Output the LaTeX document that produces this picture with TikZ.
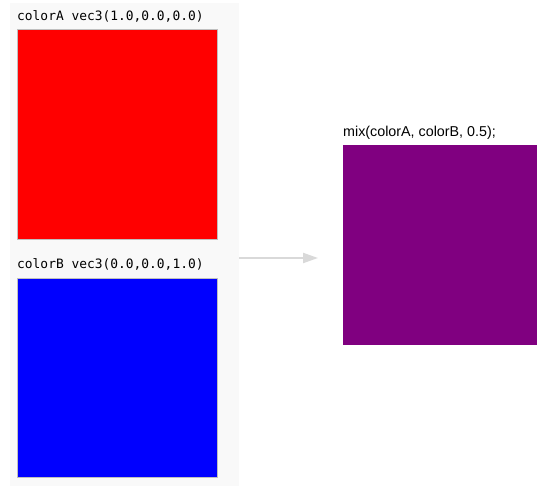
\documentclass[tikz,border=0pt]{standalone}
\usepackage{fontspec}
\setmainfont{Liberation Sans}
\setmonofont{DejaVu Sans Mono}
\usetikzlibrary{arrows.meta}
\definecolor{panelgray}{HTML}{F9F9F9}
\definecolor{arrowgray}{HTML}{D9D9D9}
\definecolor{mixpurple}{HTML}{800080}

\begin{document}
\begin{tikzpicture}[x=1pt,y=1pt,
  swatch/.style={draw=black!25, line width=0.6pt, inner sep=0pt, anchor=north west},
  codelabel/.style={font=\ttfamily\fontsize{12.9}{14}\selectfont, inner sep=0pt, anchor=base west},
  mixlabel/.style={font=\fontsize{14.3}{16}\selectfont, inner sep=0pt, anchor=base west},
  arrow/.style={draw=arrowgray, line width=2pt, -{Triangle[length=15pt,width=10pt]}}
]
  \useasboundingbox[fill=white] (0,0) rectangle (560,496);

  % left panel with the two input colours
  \node[fill=panelgray, inner sep=0pt, minimum width=229pt, minimum height=483pt,
    anchor=south west] (panel) at (10,10) {};
  \node[swatch, fill=red, minimum width=200pt, minimum height=210pt] (colorA) at (17,467) {};
  \node[codelabel] (colorAlabel) at ([yshift=8pt]colorA.north west) {colorA vec3(1.0,0.0,0.0)};
  \node[swatch, fill=blue, minimum width=200pt, minimum height=199pt] (colorB) at (17,218) {};
  \node[codelabel] (colorBlabel) at ([yshift=9pt]colorB.north west) {colorB vec3(0.0,0.0,1.0)};

  % result
  \node[fill=mixpurple, inner sep=0pt, minimum width=194pt, minimum height=200pt,
    anchor=north west] (mixed) at (343,351) {};
  \node[mixlabel] (mixedlabel) at ([yshift=8pt]mixed.north west) {mix(colorA, colorB, 0.5);};

  \coordinate (arrowend) at (318,238);
  \draw[arrow] (panel.east |- arrowend) -- (arrowend);
\end{tikzpicture}
\end{document}
